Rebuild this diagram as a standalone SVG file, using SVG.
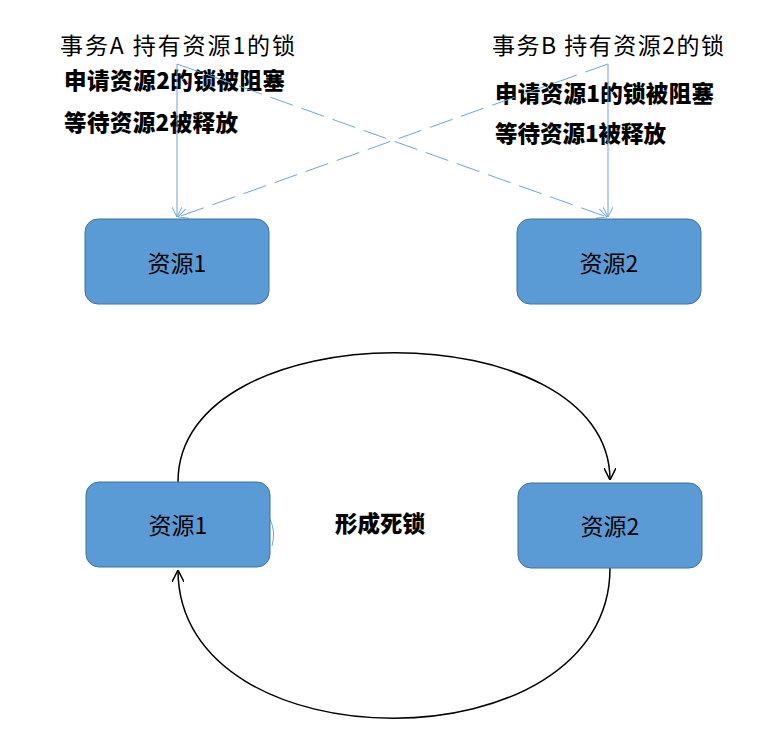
<svg xmlns="http://www.w3.org/2000/svg" width="766" height="735" viewBox="0 0 766 735">
<style>
.t{font-family:"Noto Sans CJK SC","Microsoft YaHei",sans-serif;fill:#000}
.h{font-size:23px}
.b{font-size:22.5px;font-weight:900}
.box rect{fill:#5B9BD5;stroke:#41719C;stroke-width:1}
.box text{font-family:"Noto Sans CJK SC",sans-serif;font-size:23px;fill:#000;text-anchor:middle}
.blue{stroke:#6FA3DA;stroke-width:1;fill:none}
.dash{stroke-dasharray:24 9}
.blk{stroke:#000;stroke-width:1.5;fill:none}
</style>
<defs>
<marker id="ab" viewBox="0 0 10 10" refX="10" refY="5" markerWidth="10" markerHeight="10" markerUnits="userSpaceOnUse" orient="auto">
<path d="M0,0 L10,5 L0,10" fill="none" stroke="#6FA3DA" stroke-width="1"/>
</marker>
<marker id="ak" viewBox="0 0 12 12" refX="12" refY="6" markerWidth="12" markerHeight="12" markerUnits="userSpaceOnUse" orient="auto">
<path d="M0,0 L12,6 L0,12" fill="none" stroke="#000" stroke-width="1.5"/>
</marker>
</defs>
<rect width="766" height="735" fill="#fff"/>
<g id="labels">
<text class="t h" x="60" y="54" textLength="235">事务A 持有资源1的锁</text>
<text class="t b" x="64" y="89" textLength="221">申请资源2的锁被阻塞</text>
<text class="t b" x="64" y="131" textLength="174">等待资源2被释放</text>
<text class="t h" x="492" y="54" textLength="232">事务B 持有资源2的锁</text>
<text class="t b" x="495" y="102" textLength="219">申请资源1的锁被阻塞</text>
<text class="t b" x="495" y="142" textLength="171">等待资源1被释放</text>
<text class="t b" x="380" y="532" text-anchor="middle" font-size="23">形成死锁</text>
</g>
<g id="connectors">
<line class="blue" x1="177" y1="64" x2="177" y2="217" marker-end="url(#ab)"/>
<line class="blue" x1="608" y1="64" x2="608" y2="217" marker-end="url(#ab)"/>
<line class="blue dash" x1="177" y1="64" x2="607" y2="217" marker-end="url(#ab)"/>
<line class="blue dash" x1="608" y1="64" x2="178" y2="217" marker-end="url(#ab)"/>
<path class="blk" d="M178,482 C178,310 610,310 610,480" marker-end="url(#ak)"/>
<path class="blk" d="M610,568 C610,768 178,768 178,570" marker-end="url(#ak)"/>
<path class="blue" d="M270,519 Q276,532 272,546"/>
</g>
<g id="res1-top" class="box">
<rect x="85" y="219" width="184" height="85" rx="13"/>
<text x="177" y="272">资源1</text>
</g>
<g id="res2-top" class="box">
<rect x="517" y="219" width="184" height="85" rx="13"/>
<text x="609" y="272">资源2</text>
</g>
<g id="res1-bottom" class="box">
<rect x="86" y="482" width="184" height="85" rx="13"/>
<text x="178" y="534">资源1</text>
</g>
<g id="res2-bottom" class="box">
<rect x="518" y="483" width="184" height="85" rx="13"/>
<text x="610" y="535">资源2</text>
</g>
</svg>
